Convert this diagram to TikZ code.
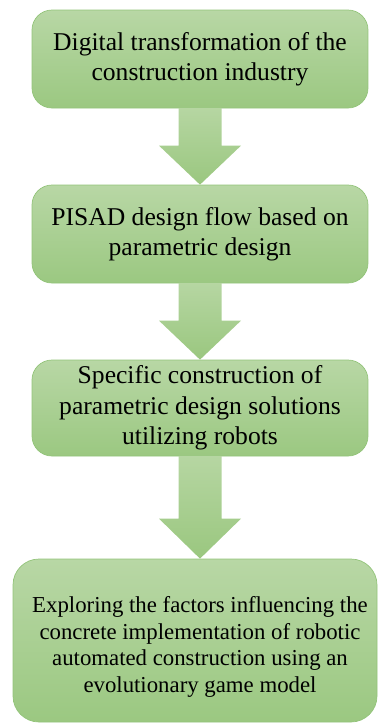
\documentclass[tikz,border=0pt]{standalone}
\usepackage{fontspec}
\setmainfont{Liberation Serif}
\usetikzlibrary{calc}
\definecolor{gtop}{HTML}{B8D7A5}
\definecolor{gbot}{HTML}{9BC881}
\definecolor{gedge}{HTML}{93C47A}
\definecolor{atop}{HTML}{B6D6A2}
\definecolor{abot}{HTML}{9AC77F}
\tikzset{
  box/.style={draw=gedge, line width=0.7pt, rounded corners=20pt, top color=gtop, bottom color=gbot,
    align=center, text=black, inner sep=0pt, font=\fontsize{25.6}{30.5}\selectfont},
  bigbox/.style={box, rounded corners=26pt},
  txt/.style={align=center, text=black, inner sep=0pt},
}
\newcommand{\blockarrow}[3]{%
  \shade[top color=atop, bottom color=abot]
    let \p1=(#1.south), \p2=(#2.north) in
    (\x1-21.5pt,\y1+0.5pt) -- (\x1+21.5pt,\y1+0.5pt) -- (\x1+21.5pt,\y2+#3) --
    (\x1+41pt,\y2+#3) -- (\x1,\y2) -- (\x1-41pt,\y2+#3) -- (\x1-21.5pt,\y2+#3) -- cycle;}
\begin{document}
\begin{tikzpicture}[x=1pt,y=-1pt]
\useasboundingbox (0,0) rectangle (378,724);
\node[box, minimum width=336pt, minimum height=98pt] (b1) at (200,59)
  {Digital transformation of the\\construction industry};
\node[box, minimum width=336pt, minimum height=98pt] (b2) at (200,234)
  {PISAD design flow based on\\parametric design};
\node[box, minimum width=336pt, minimum height=96pt] (b3) at (200,408)
  {Specific construction of\\parametric design solutions\\utilizing robots};
\node[bigbox, minimum width=364pt, minimum height=163pt] (b4) at (195,640.5) {};
\node[txt, font=\fontsize{22.8}{26.8}\selectfont] (t4) at (200,647)
  {Exploring the factors influencing the\\concrete implementation of robotic\\automated construction using an\\evolutionary game model};
\blockarrow{b1}{b2}{39pt}
\blockarrow{b2}{b3}{39pt}
\blockarrow{b3}{b4}{40pt}
\end{tikzpicture}
\end{document}
